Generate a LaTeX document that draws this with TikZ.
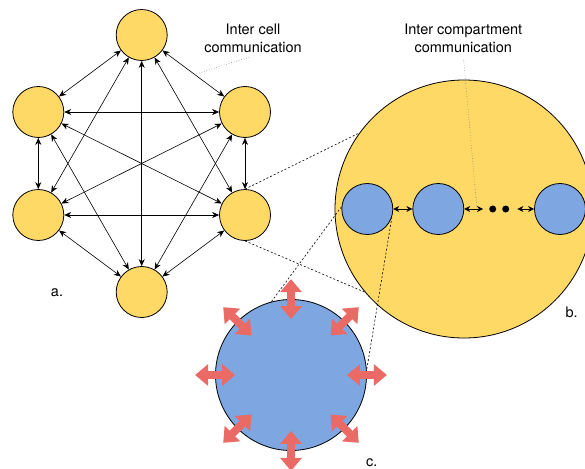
\documentclass[tikz,border=0pt]{standalone}
\usepackage{fontspec}
\setmainfont{TeX Gyre Heros}
\usetikzlibrary{arrows.meta}
\definecolor{cellfill}{HTML}{FFD966}
\definecolor{compfill}{HTML}{7EA6E0}
\definecolor{pumpred}{HTML}{EA6B66}
\tikzset{
  cell/.style={circle,draw,line width=0.8pt,fill=cellfill,inner sep=0pt,minimum size=51pt},
  comp/.style={circle,draw,line width=0.8pt,fill=compfill,inner sep=0pt,minimum size=51pt},
  flow/.style={{Stealth[length=7pt,width=6pt]}-{Stealth[length=7pt,width=6pt]},line width=0.6pt},
  flowb/.style={{Stealth[length=6pt,width=6pt]}-{Stealth[length=6pt,width=6pt]},line width=0.9pt},
  zoomline/.style={dash pattern=on 2pt off 2pt,line width=0.6pt},
  tagline/.style={dotted,gray,line width=0.6pt},
  pump/.style={pumpred,line width=8pt,{Triangle[length=13pt,width=21pt]}-{Triangle[length=13pt,width=21pt]}},
  lbl/.style={font=\fontsize{14.5}{18}\selectfont,align=center},
}

\begin{document}
\begin{tikzpicture}[x=1pt,y=-1pt]
        \useasboundingbox (0,0) rectangle (585,468);
        \clip (0,0) rectangle (585,468);
        % Cells
        \node[cell] (t) at (141.7,35) {};
        \node[cell] (ul) at (38.3,112) {};
        \node[cell] (ur) at (245,112) {};
        \node[cell] (ll) at (38.3,215) {};
        \node[cell] (lr) at (245,215) {};
        \node[cell] (bt) at (141.7,292) {};
        \foreach \p/\q in {t/ul,t/ur,t/ll,t/lr,t/bt,ul/ur,ul/ll,ul/lr,ul/bt,
                           ur/ll,ur/lr,ur/bt,ll/lr,ll/bt,lr/bt}
          \draw[flow] (\p) -- (\q);
        \path (t) -- (ur) coordinate[pos=0.52] (mt);
        % Compartments
        \node[cell,minimum size=258pt] (b) at (464,209) {};
        \node[comp] (b1) at (367.3,209) {};
        \node[comp] (b2) at (438.3,209) {};
        \node[comp] (b3) at (560,209) {};
        \node[circle,fill,inner sep=0pt,minimum size=7pt] (d1) at (492.7,209) {};
        \node[circle,fill,inner sep=0pt,minimum size=7pt] (d2) at (505.7,209) {};
        \draw[flowb] (b1) -- (b2);
        \draw[flowb,shorten >=6pt] (b2) -- (d1);
        \draw[flowb,shorten <=8pt] (d2) -- (b3);
        \coordinate (mb) at (477,209);
        % Single compartment
        \node[comp,minimum size=151pt] (c) at (291,375) {};
        % Zoom lines
        \draw[zoomline] (lr.north) -- (b.144);
        \draw[zoomline] (lr.south) -- (b.220);
        \draw[zoomline] (b1.175) -- (c.105);
        \draw[zoomline] (b1.-18) -- (c.4);
        \foreach \a in {0,45,...,315}
          \draw[pump] ([shift={(\a:-20pt)}]c.\a) -- ([shift={(\a:20pt)}]c.\a);
        % Labels
        \node[lbl] (lcell) at (253,38) {Inter cell\\communication};
        \node[lbl] (lcomp) at (463.3,38) {Inter compartment\\communication};
        \draw[tagline,shorten <=4pt] (lcell.south) -- (mt);
        \draw[tagline,shorten <=4pt] (lcomp.south) -- (mb);
        \node[lbl] (la) at (57,293) {a.};
        \node[lbl] (lb) at (571.7,312) {b.};
        \node[lbl,anchor=base,inner sep=0pt] (lc) at (371.7,466) {c.};
    \end{tikzpicture}
\end{document}
